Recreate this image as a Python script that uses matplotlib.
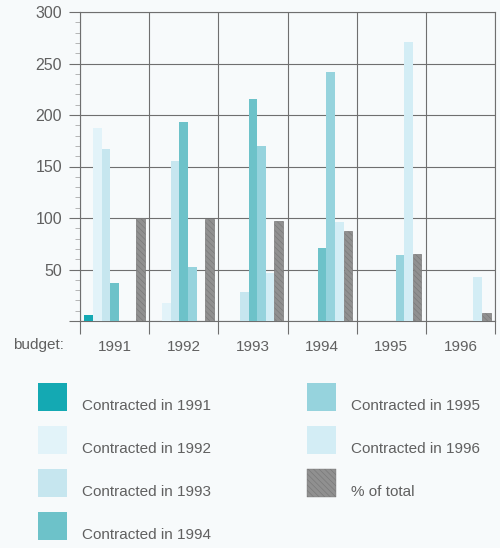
import matplotlib
matplotlib.use("Agg")
import matplotlib.pyplot as plt
from matplotlib.patches import Rectangle
from matplotlib.ticker import MultipleLocator, FixedLocator, FuncFormatter

# budget years along the x axis
budget_years = ["1991", "1992", "1993", "1994", "1995", "1996"]

# amounts contracted per budget year, one list per contracting year
contracted_1991 = [6, 0, 0, 0, 0, 0]
contracted_1992 = [187, 17, 0, 0, 0, 0]
contracted_1993 = [167, 155, 28, 0, 0, 0]
contracted_1994 = [37, 193, 216, 71, 0, 0]
contracted_1995 = [0, 52, 170, 242, 64, 0]
contracted_1996 = [0, 0, 47, 96, 271, 43]
pct_of_total = [100, 99, 97, 87, 65, 8]

series = [
    ("Contracted in 1991", contracted_1991, "#14a9b3"),
    ("Contracted in 1992", contracted_1992, "#e2f3f9"),
    ("Contracted in 1993", contracted_1993, "#c6e6ef"),
    ("Contracted in 1994", contracted_1994, "#6dc2c9"),
    ("Contracted in 1995", contracted_1995, "#96d3dd"),
    ("Contracted in 1996", contracted_1996, "#d3edf5"),
]

bg = "#f7fafb"
grid_col = "#6f6f6f"
txt_col = "#606060"
pct_face = "#909090"
pct_edge = "#7a7a7a"
plt.rcParams["font.family"] = ["Liberation Sans", "DejaVu Sans"]
plt.rcParams["hatch.linewidth"] = 0.5

W, H = 500, 548
fig = plt.figure(figsize=(W / 100, H / 100), dpi=100, facecolor=bg)
ax = fig.add_axes([80 / W, 1 - 321 / H, 415 / W, 309 / H], facecolor=bg)

n_slots = len(series) + 1
slot_w = 0.1246
margin = (1 - n_slots * slot_w) / 2

for j, (name, vals, col) in enumerate(series):
    xs = [i + margin + (j + 0.5) * slot_w for i in range(len(budget_years))]
    ax.bar(xs, vals, width=slot_w, color=col, linewidth=0, zorder=3)

xs = [i + margin + (n_slots - 0.5) * slot_w for i in range(len(budget_years))]
ax.bar(xs, pct_of_total, width=slot_w, color=pct_face, edgecolor=pct_edge,
       hatch="\\\\\\\\\\\\", linewidth=0.5, zorder=3)

ax.set_xlim(0, len(budget_years))
ax.set_ylim(0, 300)

# group boundaries get the gridlines, group centres get the labels
ax.xaxis.set_major_locator(FixedLocator(range(len(budget_years) + 1)))
ax.xaxis.set_major_formatter(FuncFormatter(lambda v, p: ""))
ax.xaxis.set_minor_locator(FixedLocator([i + 0.5 for i in range(len(budget_years))]))
ax.set_xticklabels(budget_years, minor=True)
ax.tick_params(axis="x", which="major", length=9, width=0.8, color=grid_col)
ax.tick_params(axis="x", which="minor", length=0, pad=14, labelsize=11, labelcolor=txt_col)

ax.yaxis.set_major_locator(MultipleLocator(50))
ax.yaxis.set_minor_locator(MultipleLocator(10))
ax.yaxis.set_major_formatter(FuncFormatter(lambda v, p: "" if v == 0 else f"{v:.0f}"))
ax.tick_params(axis="y", which="major", length=8, width=0.8, color=grid_col,
               labelsize=11.5, labelcolor=txt_col, pad=5)
ax.tick_params(axis="y", which="minor", length=3.5, width=0.5, color="#9a9a9a")

ax.grid(True, which="major", color=grid_col, linewidth=0.8, zorder=0)
ax.set_axisbelow(True)
for s in ax.spines.values():
    s.set_color(grid_col)
    s.set_linewidth(0.8)

fig.text(13 / W, 1 - 345 / H, "budget:", fontsize=11, color=txt_col, va="center")

# legend in two columns, labels sit a little below their swatches
entries = [(name, col) for name, vals, col in series] + [("% of total", None)]
for k, (name, col) in enumerate(entries):
    colx = 38 if k < 4 else 307
    top = 383 + 43 * (k % 4)
    if col is None:
        r = Rectangle((colx / W, 1 - (top + 28) / H), 29 / W, 28 / H,
                      transform=fig.transFigure, facecolor=pct_face,
                      edgecolor=pct_edge, hatch="\\\\\\\\\\\\", linewidth=0.3)
    else:
        r = Rectangle((colx / W, 1 - (top + 28) / H), 29 / W, 28 / H,
                      transform=fig.transFigure, facecolor=col, linewidth=0)
    fig.add_artist(r)
    fig.text((colx + 44) / W, 1 - (top + 23) / H, name, fontsize=11,
             color=txt_col, va="center")

fig.savefig("out.png", dpi=100, facecolor=bg)
